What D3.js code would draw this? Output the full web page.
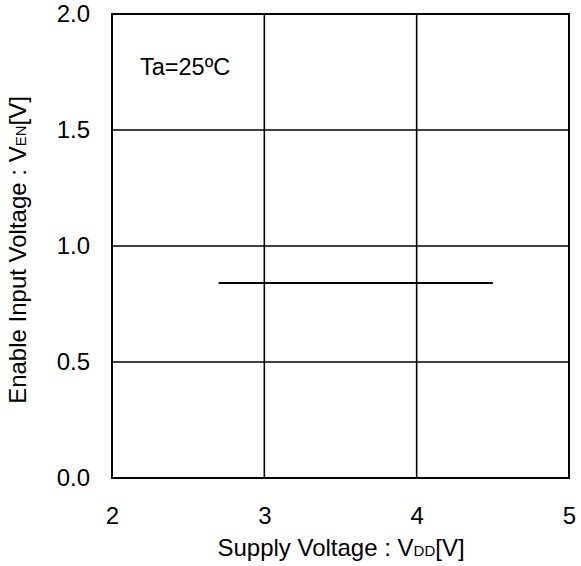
<!DOCTYPE html>
<html>
<head>
<meta charset="utf-8">
<script src="https://cdn.jsdelivr.net/npm/d3@7"></script>
<style>
  body { margin: 0; background: #fff; }
  svg text { font-family: "Liberation Sans", Arial, sans-serif; fill: #000; }
</style>
</head>
<body>
<svg id="chart" width="581" height="566"></svg>
<script>
// supply voltage VDD [V] vs enable input voltage VEN [V]
var vdd = [2.7, 4.5];
var ven = [0.84, 0.84];
var xTicks = [2, 3, 4, 5];
var yTicks = [0.0, 0.5, 1.0, 1.5, 2.0];

var margin = {top: 14, right: 12, bottom: 88, left: 112};
var width = 581 - margin.left - margin.right,
    height = 566 - margin.top - margin.bottom;

var svg = d3.select('#chart');
var g = svg.append('g').attr('transform', 'translate(' + margin.left + ',' + margin.top + ')');

var x = d3.scaleLinear().domain([2, 5]).range([0, width]);
var y = d3.scaleLinear().domain([0, 2]).range([height, 0]);

// grid
g.selectAll('.gx').data(xTicks).enter().append('line')
  .attr('x1', function(d) { return x(d); }).attr('x2', function(d) { return x(d); })
  .attr('y1', 0).attr('y2', height)
  .style('stroke', '#000').style('stroke-width', 1.6);
g.selectAll('.gy').data(yTicks).enter().append('line')
  .attr('x1', 0).attr('x2', width)
  .attr('y1', function(d) { return y(d); }).attr('y2', function(d) { return y(d); })
  .style('stroke', '#000').style('stroke-width', 1.6);

g.append('rect').attr('width', width).attr('height', height)
  .style('fill', 'none').style('stroke', '#000').style('stroke-width', 2);

// axes (labels only)
var xAxis = g.append('g').attr('transform', 'translate(0,' + height + ')')
  .call(d3.axisBottom(x).tickValues(xTicks).tickSize(0).tickPadding(29).tickFormat(d3.format('d')));
var yAxis = g.append('g')
  .call(d3.axisLeft(y).tickValues(yTicks).tickSize(0).tickPadding(22).tickFormat(d3.format('.1f')));
[xAxis, yAxis].forEach(function(a) {
  a.select('.domain').remove();
  a.selectAll('text').style('font-size', '24px').style('font-family', '"Liberation Sans", Arial, sans-serif');
});

// data line
var line = d3.line().x(function(d, i) { return x(vdd[i]); }).y(function(d) { return y(d); });
g.append('path').datum(ven).attr('d', line)
  .style('fill', 'none').style('stroke', '#000').style('stroke-width', 2);

g.append('text').attr('x', 28).attr('y', 61).style('font-size', '23.5px').text('Ta=25ºC');

// axis titles
var xt = svg.append('text').attr('x', 341).attr('y', 556)
  .attr('text-anchor', 'middle').style('font-size', '24px');
xt.append('tspan').text('Supply Voltage : V');
xt.append('tspan').style('font-size', '15px').text('DD');
xt.append('tspan').text('[V]');

var yt = svg.append('text').attr('transform', 'translate(26,250) rotate(-90)')
  .attr('text-anchor', 'middle').style('font-size', '24px');
yt.append('tspan').text('Enable Input Voltage : V');
yt.append('tspan').style('font-size', '15px').text('EN');
yt.append('tspan').text('[V]');
</script>
</body>
</html>
